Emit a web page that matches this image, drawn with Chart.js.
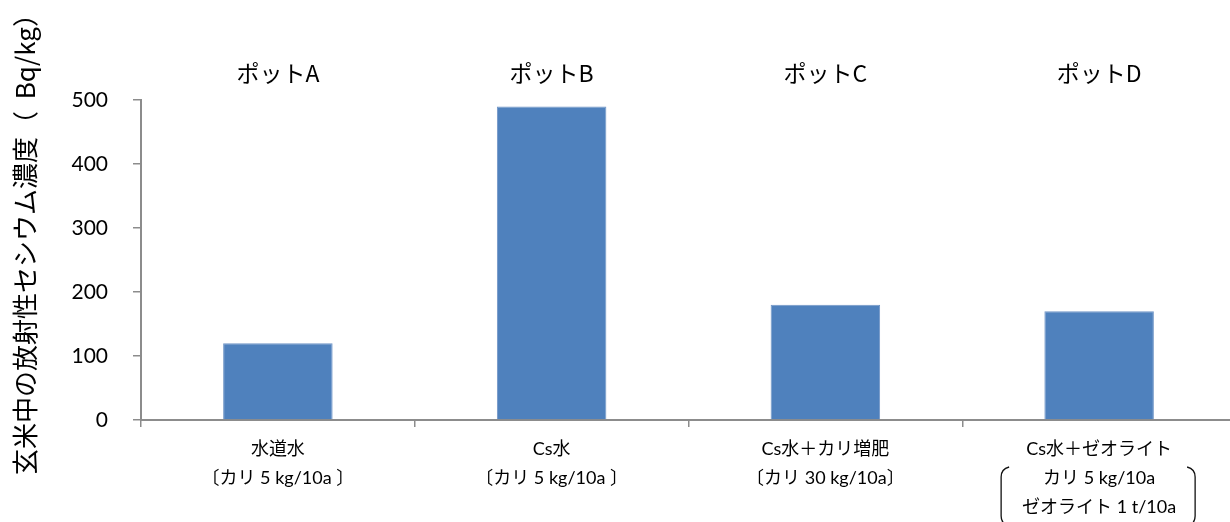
<!DOCTYPE html>
<html lang="ja">
<head>
<meta charset="utf-8">
<title>玄米中の放射性セシウム濃度</title>
<script src="https://cdn.jsdelivr.net/npm/chart.js@4/dist/chart.umd.min.js"></script>
<style>
  html, body { margin: 0; padding: 0; background: #fff; overflow: hidden; }
  canvas { display: block; }
</style>
</head>
<body>
<canvas id="chart" width="1245" height="522"></canvas>
<script>
// Pot names shown above each bar
const potLabels = ['ポットA', 'ポットB', 'ポットC', 'ポットD'];

// Treatment of each pot (multi-line category labels)
const treatmentLabels = [
  ['水道水', '〔カリ 5 kg/10a 〕'],
  ['Cs水', '〔カリ 5 kg/10a 〕'],
  ['Cs水＋カリ増肥', '〔カリ 30 kg/10a〕'],
  ['Cs水＋ゼオライト', 'カリ 5 kg/10a', 'ゼオライト 1 t/10a']
];

// Radioactive cesium in brown rice (Bq/kg)
const cesiumValues = [120, 490, 180, 170];

// Value axis
const yMin = 0;
const yMax = 500;
const yStep = 100;

const yTitle = '玄米中の放射性セシウム濃度（ Bq/kg）';

const LATIN_JP = "Lato, 'Noto Sans CJK JP', sans-serif";
const JP = "'Noto Sans CJK JP', sans-serif";
const AXIS_GRAY = '#8c8c8c';

// Draws the rotated value-axis title and the tall brackets around
// the last category's sub-lines.
const decorations = {
  id: 'decorations',
  afterDraw(chart) {
    const ctx = chart.ctx;
    const area = chart.chartArea;
    const xs = chart.scales.x;

    ctx.save();
    ctx.translate(25, area.top + 138);
    ctx.rotate(-Math.PI / 2);
    ctx.font = '26px ' + JP;
    ctx.fillStyle = '#000';
    ctx.textAlign = 'center';
    ctx.textBaseline = 'middle';
    ctx.fillText(yTitle.replace('（ ', '（  '), 0, 0);
    ctx.restore();

    const cx = xs.getPixelForValue(treatmentLabels.length - 1);
    const top = xs.top + 47;
    const bottom = xs.top + 106;
    const lx = cx - 98;
    const rx = cx + 96;
    ctx.save();
    ctx.strokeStyle = '#111';
    ctx.lineWidth = 1.3;
    ctx.beginPath();
    ctx.moveTo(lx + 8, top);
    ctx.quadraticCurveTo(lx, top + 2, lx, top + 10);
    ctx.lineTo(lx, bottom - 10);
    ctx.quadraticCurveTo(lx, bottom - 2, lx + 8, bottom);
    ctx.moveTo(rx - 8, top);
    ctx.quadraticCurveTo(rx, top + 2, rx, top + 10);
    ctx.lineTo(rx, bottom - 10);
    ctx.quadraticCurveTo(rx, bottom - 2, rx - 8, bottom);
    ctx.stroke();
    ctx.restore();
  }
};

new Chart(document.getElementById('chart'), {
  type: 'bar',
  data: {
    labels: treatmentLabels,
    datasets: [{
      data: cesiumValues,
      backgroundColor: '#4f81bd',
      borderColor: '#7095c6',
      borderWidth: 1,
      categoryPercentage: 1,
      barPercentage: 0.4
    }]
  },
  options: {
    responsive: false,
    animation: false,
    layout: { padding: { left: 0, right: 9, top: 0, bottom: 0 } },
    plugins: {
      legend: { display: false },
      tooltip: { enabled: false }
    },
    scales: {
      x: {
        position: 'bottom',
        offset: true,
        afterFit(s) { s.height = 102; },
        grid: {
          display: true,
          drawOnChartArea: false,
          drawTicks: true,
          tickLength: 7,
          offset: true,
          color: AXIS_GRAY,
          lineWidth: 1.5
        },
        border: { display: true, color: AXIS_GRAY, width: 2 },
        ticks: {
          color: '#000',
          padding: 8,
          maxRotation: 0,
          autoSkip: false,
          font: { family: LATIN_JP, size: 18, lineHeight: '29px' }
        }
      },
      x2: {
        type: 'category',
        labels: potLabels,
        position: 'top',
        offset: true,
        afterFit(s) { s.height = 100; },
        grid: { display: false },
        border: { display: false },
        ticks: {
          color: '#000',
          padding: 5,
          font: { family: JP, size: 23 }
        }
      },
      y: {
        min: yMin,
        max: yMax,
        afterFit(s) { s.width = 141; },
        grid: {
          display: true,
          drawOnChartArea: false,
          drawTicks: true,
          tickLength: 8,
          color: AXIS_GRAY,
          lineWidth: 1.5
        },
        border: { display: true, color: AXIS_GRAY, width: 2 },
        ticks: {
          stepSize: yStep,
          color: '#000',
          padding: 25,
          font: { family: LATIN_JP, size: 21 }
        }
      }
    }
  },
  plugins: [decorations]
});
</script>
</body>
</html>
